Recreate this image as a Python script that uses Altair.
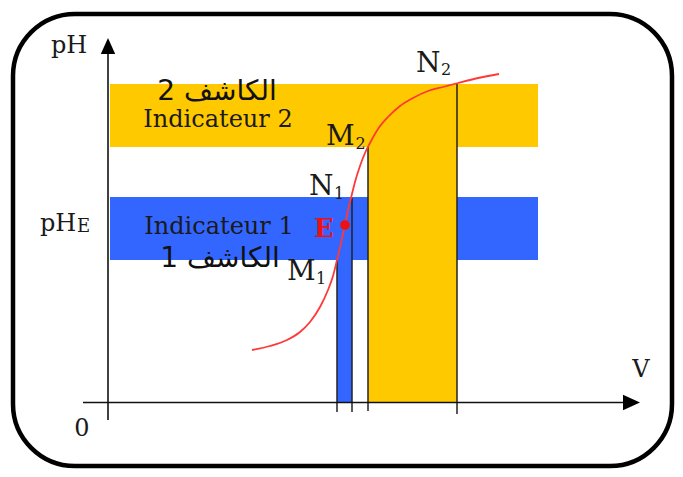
import altair as alt
import pandas as pd

# Diagram coordinates: V along the abscissa, pH along the ordinate (origin = axes crossing)
curve_v = [144, 162, 179, 192, 202, 212, 220, 225, 229, 233, 237, 240, 243, 247, 252,
           257, 262, 270, 280, 292, 305, 320, 335, 350, 370, 391]
curve_ph = [53, 57, 63, 71, 81, 96, 113, 127, 143, 160, 178, 193, 205, 221, 237,
            250, 260, 274, 286, 297, 305, 312, 316, 320, 325, 329]

# indicator zones (horizontal bands)
band_v0 = [2, 2]
band_v1 = [430, 430]
band_ph0 = [256, 143]
band_ph1 = [319, 206]
band_colors = ["#ffc900", "#3366ff"]

# volume intervals (vertical bars)
bar_v0 = [229, 260]
bar_v1 = [244, 349]
bar_ph1 = [143, 256]
bar_colors = ["#3366ff", "#ffc900"]

# drop lines from M1, N1, M2, N2
drop_v = [229, 244, 260, 349]
drop_top = [143, 205, 256, 319]
drop_bottom = [-9, -9, -8, -11]

# equivalence point
eq_v = [237]
eq_ph = [178]

# labels
main_text = ["pH", "pH", "0", "V", "Indicateur 2", "Indicateur 1"]
main_v = [-57, -68, -26, 533, 110, 111]
main_ph = [350, 172, -33, 26, 276, 169]
main_align = ["left", "left", "center", "center", "center", "center"]

ar_text = ["الكاشف 2", "الكاشف 1"]
ar_v = [109, 112]
ar_ph = [303, 136]

pt_text = ["N", "M", "M", "N"]
pt_v = [201, 179, 218, 308]
pt_ph = [208, 123, 258, 331]
sub_text = ["1", "1", "2", "2"]
sub_v = [226, 208, 247.5, 333]
sub_ph = [204, 119, 254, 328]

xs = alt.Scale(domain=[-100, 567], nice=False, zero=False)
ys = alt.Scale(domain=[-66, 395], nice=False, zero=False)


def X(f):
    return alt.X(f, type="quantitative", scale=xs, axis=None)


def Y(f):
    return alt.Y(f, type="quantitative", scale=ys, axis=None)


border = alt.Chart(pd.DataFrame({"v0": [-95], "v1": [564], "p0": [-63], "p1": [389]})).mark_rect(
    fillOpacity=0, stroke="black", strokeWidth=4.5, cornerRadius=62
).encode(x=X("v0"), x2="v1", y=Y("p0"), y2="p1")

bands = alt.Chart(pd.DataFrame({"v0": band_v0, "v1": band_v1, "p0": band_ph0, "p1": band_ph1,
                                "c": band_colors})).mark_rect().encode(
    x=X("v0"), x2="v1", y=Y("p0"), y2="p1", color=alt.Color("c:N", scale=None))

bars = alt.Chart(pd.DataFrame({"v0": bar_v0, "v1": bar_v1, "p0": [0, 0], "p1": bar_ph1,
                               "c": bar_colors})).mark_rect().encode(
    x=X("v0"), x2="v1", y=Y("p0"), y2="p1", color=alt.Color("c:N", scale=None))

drops = alt.Chart(pd.DataFrame({"v": drop_v, "t": drop_top, "b": drop_bottom})).mark_rule(
    color="#222222", strokeWidth=1.5).encode(x=X("v"), y=Y("b"), y2="t")

yaxis = alt.Chart(pd.DataFrame({"v": [0], "a": [-17], "b": [350]})).mark_rule(
    color="#111111", strokeWidth=1.6).encode(x=X("v"), y=Y("a"), y2="b")
xaxis = alt.Chart(pd.DataFrame({"a": [-25], "b": [518], "p": [0.5]})).mark_rule(
    color="#111111", strokeWidth=1.6).encode(x=X("a"), x2="b", y=Y("p"))

up_arrow = alt.Chart(pd.DataFrame({"v": [0], "p": [357]})).mark_point(
    shape="M0,-1L-0.9,1L0.9,1Z", size=256, filled=True, color="black", opacity=1
).encode(x=X("v"), y=Y("p"))
right_arrow = alt.Chart(pd.DataFrame({"v": [523.5], "p": [0.5]})).mark_point(
    shape="M1,0L-1,-0.9L-1,0.9Z", size=289, filled=True, color="black", opacity=1
).encode(x=X("v"), y=Y("p"))

curve = alt.Chart(pd.DataFrame({"v": curve_v, "ph": curve_ph})).mark_line(
    color="#ff3838", strokeWidth=1.8, interpolate="monotone").encode(x=X("v"), y=Y("ph"), order="v:Q")

eq_dot = alt.Chart(pd.DataFrame({"v": eq_v, "ph": eq_ph})).mark_point(
    shape="circle", size=95, filled=True, color="#ee1111", opacity=1).encode(x=X("v"), y=Y("ph"))

serif = "DejaVu Serif"

main_df = pd.DataFrame({"t": main_text, "v": main_v, "ph": main_ph, "a": main_align})
main_left = alt.Chart(main_df[main_df.a == "left"]).mark_text(
    font=serif, fontSize=24, align="left", baseline="alphabetic", color="#1a1a1a"
).encode(x=X("v"), y=Y("ph"), text="t:N")
main_center = alt.Chart(main_df[main_df.a == "center"]).mark_text(
    font=serif, fontSize=24, align="center", baseline="alphabetic", color="#1a1a1a"
).encode(x=X("v"), y=Y("ph"), text="t:N")

arabic = alt.Chart(pd.DataFrame({"t": ar_text, "v": ar_v, "ph": ar_ph})).mark_text(
    font="DejaVu Sans", fontSize=28, align="center", baseline="alphabetic", color="#111111"
).encode(x=X("v"), y=Y("ph"), text="t:N")

points_lbl = alt.Chart(pd.DataFrame({"t": pt_text, "v": pt_v, "ph": pt_ph})).mark_text(
    font=serif, fontSize=28, align="left", baseline="alphabetic", color="#1a1a1a"
).encode(x=X("v"), y=Y("ph"), text="t:N")

subs = alt.Chart(pd.DataFrame({"t": sub_text, "v": sub_v, "ph": sub_ph})).mark_text(
    font=serif, fontSize=16, align="left", baseline="alphabetic", color="#1a1a1a"
).encode(x=X("v"), y=Y("ph"), text="t:N")

ph_sub = alt.Chart(pd.DataFrame({"t": ["E"], "v": [-31], "ph": [171]})).mark_text(
    font=serif, fontSize=18, align="left", baseline="alphabetic", color="#1a1a1a"
).encode(x=X("v"), y=Y("ph"), text="t:N")

e_lbl = alt.Chart(pd.DataFrame({"t": ["E"], "v": [216], "ph": [166]})).mark_text(
    font=serif, fontSize=26, fontWeight="bold", align="center", baseline="alphabetic", color="#ee1111"
).encode(x=X("v"), y=Y("ph"), text="t:N")

chart = alt.layer(
    border, bands, bars, drops, yaxis, xaxis, up_arrow, right_arrow, curve, eq_dot,
    main_left, main_center, arabic, points_lbl, subs, ph_sub, e_lbl
).properties(
    width=667, height=461, padding=0, autosize=alt.AutoSizeParams(type="none"), background="white"
).configure_view(stroke=None)

chart.save("out.html", embed_options={"renderer": "svg", "actions": False})
